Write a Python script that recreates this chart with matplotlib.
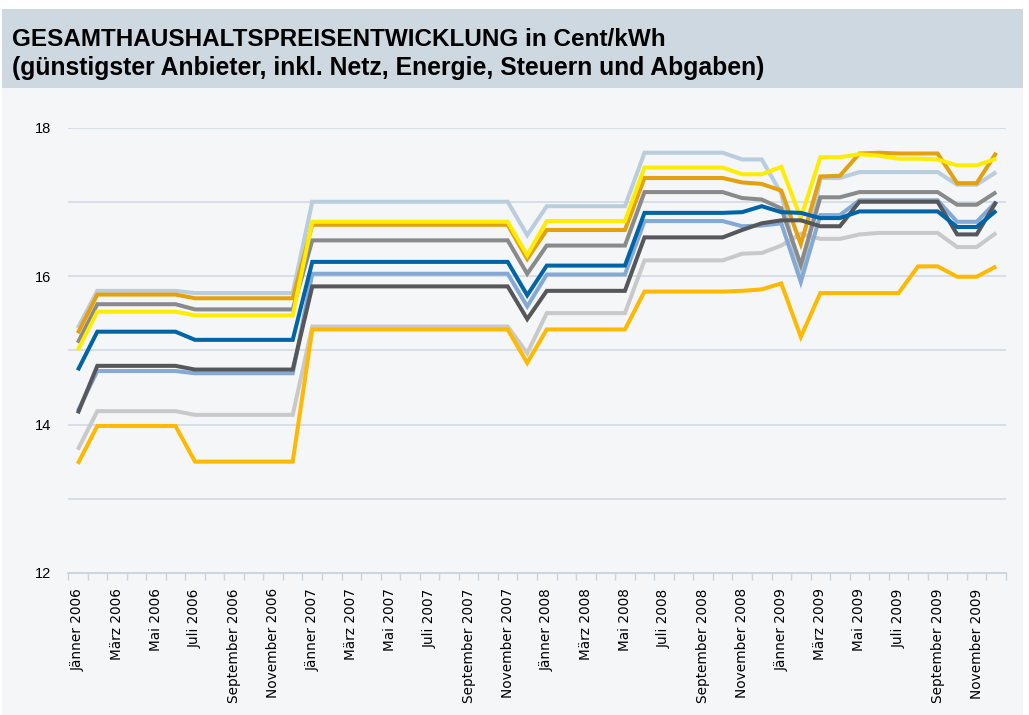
import matplotlib
matplotlib.use("Agg")
import matplotlib.pyplot as plt
from matplotlib.patches import Rectangle

# Monate Jänner 2006 - Dezember 2009
monate = ["Jänner", "Februar", "März", "April", "Mai", "Juni", "Juli",
          "August", "September", "Oktober", "November", "Dezember"]
jahre = [2006, 2007, 2008, 2009]
kategorien = [f"{m} {j}" for j in jahre for m in monate]

# Preisreihen in Cent/kWh
hellblau = [15.30, 15.80, 15.80, 15.80, 15.80, 15.80, 15.77, 15.77, 15.77, 15.77, 15.77, 15.77,
            17.00, 17.00, 17.00, 17.00, 17.00, 17.00, 17.00, 17.00, 17.00, 17.00, 17.00, 16.55,
            16.94, 16.94, 16.94, 16.94, 16.94, 17.66, 17.66, 17.66, 17.66, 17.66, 17.57, 17.57,
            17.11, 15.94, 17.32, 17.32, 17.40, 17.40, 17.40, 17.40, 17.40, 17.23, 17.23, 17.40]
gelb = [15.00, 15.52, 15.52, 15.52, 15.52, 15.52, 15.47, 15.47, 15.47, 15.47, 15.47, 15.47,
        16.73, 16.73, 16.73, 16.73, 16.73, 16.73, 16.73, 16.73, 16.73, 16.73, 16.73, 16.28,
        16.74, 16.74, 16.74, 16.74, 16.74, 17.46, 17.46, 17.46, 17.46, 17.46, 17.37, 17.37,
        17.47, 16.78, 17.60, 17.60, 17.64, 17.62, 17.58, 17.58, 17.57, 17.49, 17.49, 17.58]
orange = [15.23, 15.75, 15.75, 15.75, 15.75, 15.75, 15.70, 15.70, 15.70, 15.70, 15.70, 15.70,
          16.69, 16.69, 16.69, 16.69, 16.69, 16.69, 16.69, 16.69, 16.69, 16.69, 16.69, 16.23,
          16.62, 16.62, 16.62, 16.62, 16.62, 17.32, 17.32, 17.32, 17.32, 17.32, 17.26, 17.24,
          17.15, 16.43, 17.34, 17.35, 17.65, 17.66, 17.65, 17.65, 17.65, 17.25, 17.25, 17.66]
grau = [15.10, 15.62, 15.62, 15.62, 15.62, 15.62, 15.55, 15.55, 15.55, 15.55, 15.55, 15.55,
        16.48, 16.48, 16.48, 16.48, 16.48, 16.48, 16.48, 16.48, 16.48, 16.48, 16.48, 16.03,
        16.41, 16.41, 16.41, 16.41, 16.41, 17.13, 17.13, 17.13, 17.13, 17.13, 17.05, 17.03,
        16.91, 16.15, 17.06, 17.06, 17.13, 17.13, 17.13, 17.13, 17.13, 16.96, 16.96, 17.13]
dunkelblau = [14.73, 15.25, 15.25, 15.25, 15.25, 15.25, 15.14, 15.14, 15.14, 15.14, 15.14, 15.14,
              16.19, 16.19, 16.19, 16.19, 16.19, 16.19, 16.19, 16.19, 16.19, 16.19, 16.19, 15.74,
              16.14, 16.14, 16.14, 16.14, 16.14, 16.85, 16.85, 16.85, 16.85, 16.85, 16.86, 16.94,
              16.86, 16.85, 16.78, 16.78, 16.87, 16.87, 16.87, 16.87, 16.87, 16.66, 16.66, 16.88]
mittelblau = [14.18, 14.72, 14.72, 14.72, 14.72, 14.72, 14.69, 14.69, 14.69, 14.69, 14.69, 14.69,
              16.03, 16.03, 16.03, 16.03, 16.03, 16.03, 16.03, 16.03, 16.03, 16.03, 16.03, 15.59,
              16.02, 16.02, 16.02, 16.02, 16.02, 16.74, 16.74, 16.74, 16.74, 16.74, 16.67, 16.68,
              16.71, 15.92, 16.82, 16.82, 17.02, 17.02, 17.02, 17.02, 17.02, 16.73, 16.73, 17.00]
dunkelgrau = [14.15, 14.79, 14.79, 14.79, 14.79, 14.79, 14.74, 14.74, 14.74, 14.74, 14.74, 14.74,
              15.86, 15.86, 15.86, 15.86, 15.86, 15.86, 15.86, 15.86, 15.86, 15.86, 15.86, 15.42,
              15.80, 15.80, 15.80, 15.80, 15.80, 16.52, 16.52, 16.52, 16.52, 16.52, 16.62, 16.71,
              16.75, 16.75, 16.67, 16.67, 17.00, 17.00, 17.00, 17.00, 17.00, 16.56, 16.56, 17.00]
hellgrau = [13.66, 14.18, 14.18, 14.18, 14.18, 14.18, 14.13, 14.13, 14.13, 14.13, 14.13, 14.13,
            15.32, 15.32, 15.32, 15.32, 15.32, 15.32, 15.32, 15.32, 15.32, 15.32, 15.32, 14.96,
            15.50, 15.50, 15.50, 15.50, 15.50, 16.21, 16.21, 16.21, 16.21, 16.21, 16.30, 16.31,
            16.41, 16.57, 16.50, 16.50, 16.56, 16.58, 16.58, 16.58, 16.58, 16.39, 16.39, 16.58]
gold = [13.47, 13.98, 13.98, 13.98, 13.98, 13.98, 13.50, 13.50, 13.50, 13.50, 13.50, 13.50,
        15.28, 15.28, 15.28, 15.28, 15.28, 15.28, 15.28, 15.28, 15.28, 15.28, 15.28, 14.83,
        15.28, 15.28, 15.28, 15.28, 15.28, 15.79, 15.79, 15.79, 15.79, 15.79, 15.80, 15.82,
        15.90, 15.18, 15.77, 15.77, 15.77, 15.77, 15.77, 16.13, 16.13, 15.99, 15.99, 16.13]

# Zeichenreihenfolge: unten -> oben
reihen = [
    (hellblau, "#b9cddd"),
    (hellgrau, "#c9c9c9"),
    (mittelblau, "#84a9d5"),
    (grau, "#8a8a8a"),
    (orange, "#e5a00d"),
    (gelb, "#ffec00"),
    (dunkelgrau, "#55575a"),
    (dunkelblau, "#0064a6"),
    (gold, "#ffb900"),
]

fig = plt.figure(figsize=(10.29, 7.15), dpi=100)
fig.patch.set_facecolor("white")

# Hintergrund und Kopfzeile
fig.patches.append(Rectangle((2 / 1029, 0), 1021 / 1029, 627 / 715,
                             transform=fig.transFigure, facecolor="#f4f6f8",
                             edgecolor="none", zorder=-2))
fig.patches.append(Rectangle((2 / 1029, 1 - 88 / 715), 1021 / 1029, 79 / 715,
                             transform=fig.transFigure, facecolor="#cdd8e1",
                             edgecolor="none", zorder=-2))

titel_font = ["Liberation Sans", "DejaVu Sans"]
fig.text(12 / 1029, 1 - 46 / 715, "GESAMTHAUSHALTSPREISENTWICKLUNG in Cent/kWh",
         fontsize=17.5, fontweight="bold", family=titel_font,
         ha="left", va="baseline")
fig.text(12 / 1029, 1 - 75 / 715,
         "(günstigster Anbieter, inkl. Netz, Energie, Steuern und Abgaben)",
         fontsize=17.8, fontweight="bold", family=titel_font,
         ha="left", va="baseline")

ax = fig.add_axes([68 / 1029, 1 - 573 / 715, 938 / 1029, 445.5 / 715])
ax.set_zorder(2)
ax.set_facecolor("none")

x = list(range(len(kategorien)))
for werte, farbe in reihen:
    ax.plot(x, werte, color=farbe, linewidth=2.9, solid_joinstyle="miter",
            solid_capstyle="butt", zorder=3)

ax.set_xlim(-0.5, len(kategorien) - 0.5)
ax.set_ylim(12, 18)

# y-Achse: Gitter jede ganze Zahl, Beschriftung nur gerade Werte
ax.set_yticks(range(12, 19))
ax.set_yticklabels([str(v) if v % 2 == 0 else "" for v in range(12, 19)],
                   fontsize=10.5, family=["Liberation Sans", "DejaVu Sans"])
ax.tick_params(axis="y", length=0, pad=12)
ax.grid(axis="y", color="#d3dde6", linewidth=1.3, zorder=1)

# x-Achse: jeden zweiten Monat beschriften
ax.set_xticks(x[::2])
ax.set_xticklabels(kategorien[::2], rotation=90, fontsize=9.8,
                   family=["DejaVu Sans"], va="top", ha="center")
ax.set_xticks([i - 0.5 for i in range(len(kategorien) + 1)], minor=True)
ax.tick_params(axis="x", which="major", length=0, pad=11)
ax.tick_params(axis="x", which="minor", length=5, color="#c9d4de", width=1)

for seite in ["top", "right", "left"]:
    ax.spines[seite].set_visible(False)
ax.spines["bottom"].set_color("#c9d4de")
ax.spines["bottom"].set_linewidth(1.3)

fig.savefig("out.png", dpi=100, facecolor=fig.get_facecolor())
